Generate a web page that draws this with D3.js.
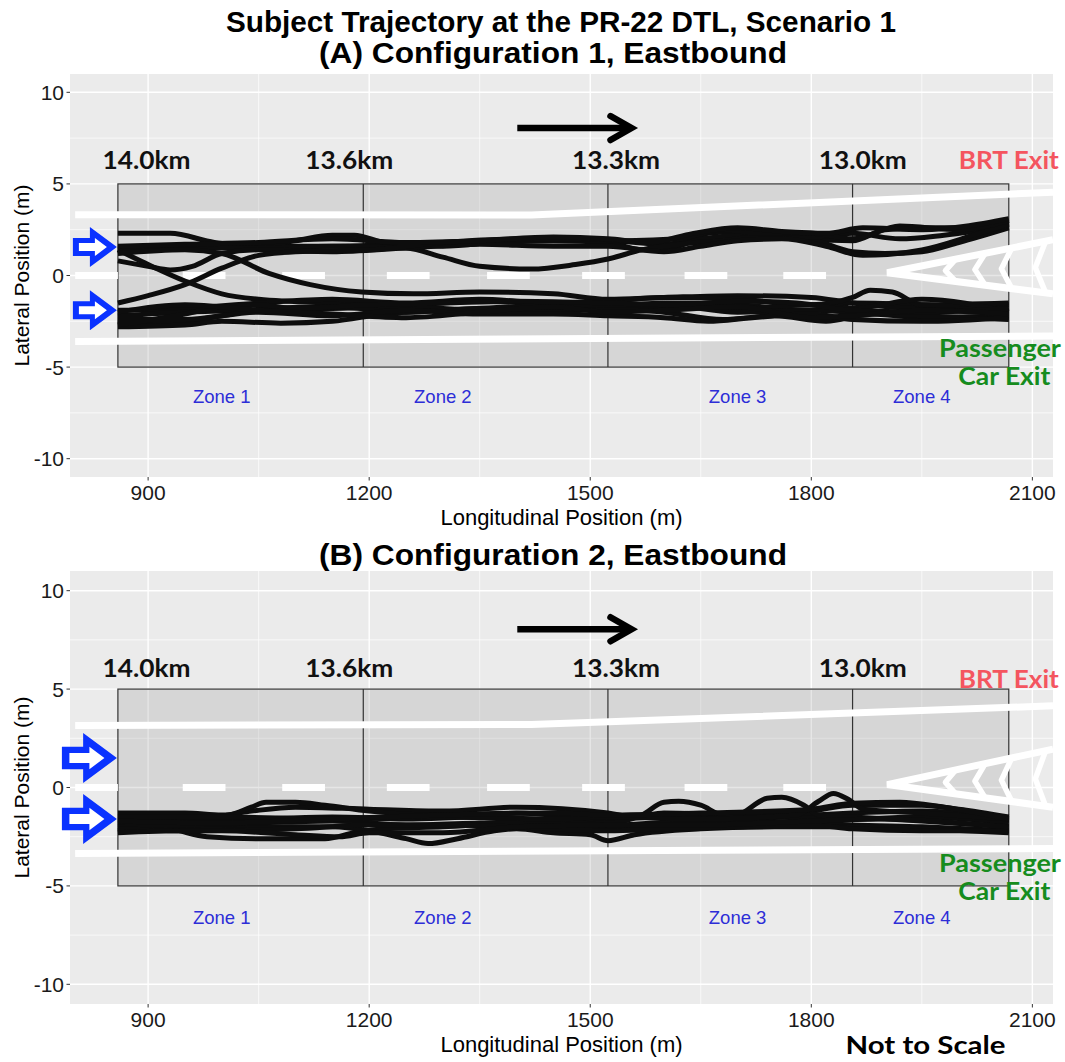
<!DOCTYPE html>
<html><head><meta charset="utf-8">
<script src="https://cdn.jsdelivr.net/npm/d3@7"></script>
<style>body{margin:0;background:#fff}svg{display:block}</style>
</head><body><svg id="c" width="1065" height="1062"></svg>
<script>
// ---------- data ----------
const xDomain = [794, 2128];
const yDomain = [-11, 11];
const xTicks = [900, 1200, 1500, 1800, 2100];
const xMinorTicks = [1050, 1350, 1650, 1950];
const yTicks = [-10, -5, 0, 5, 10];
const yMinorTicks = [-7.5, -2.5, 2.5, 7.5];

const zoneBounds = [859, 1192, 1524, 1856, 2068];
const zoneBoxY = [-5, 5];
const zoneNames = ["Zone 1", "Zone 2", "Zone 3", "Zone 4"];
const zoneLabelX = [1000, 1300, 1700, 1950];
const zoneLabelY = -6.6;
const kmLabels = ["14.0km", "13.6km", "13.3km", "13.0km"];
const kmLabelX = [898, 1173, 1535, 1870];

const dashStarts = [801, 947, 1082, 1224, 1360, 1489, 1628, 1762];
const dashLength = 58;
const edgeTopA = [[801, 3.32], [1420, 3.3], [2128, 4.55]];
const edgeBottomA = [[801, -3.6], [2128, -3.3]];
const edgeTopB = [[801, 3.15], [1420, 3.2], [2128, 4.15]];
const edgeBottomB = [[801, -3.35], [2128, -3.1]];
const goreTip = [1903, 0.15];
const goreTop = [2128, 1.95];
const goreBottom = [2128, -1.0];
const chevronX = [1982, 2022, 2058, 2104];

const entryArrowsA = [1.55, -1.9];
const entryArrowsB = [1.5, -1.6];
const travelArrowX = [1401, 1556];

const trajA = [
  [[859,2.3],[930,2.3],[990,1.8],[1050,1.6],[1150,1.6],[1250,1.7],[1350,1.8],[1450,1.9],[1524,1.8],[1570,1.4],[1620,1.6],[1660,2.3],[1700,2.4],[1760,2.2],[1800,2.0],[1856,1.9],[1900,2.5],[1950,2.6],[2000,2.6],[2068,2.9]],
  [[859,1.5],[950,1.6],[1050,1.6],[1100,1.9],[1150,2.2],[1180,2.2],[1220,1.8],[1300,1.6],[1400,1.9],[1524,1.9],[1600,1.7],[1650,2.0],[1700,2.2],[1750,2.3],[1800,2.0],[1856,1.3],[1900,1.2],[1950,1.3],[2000,1.8],[2068,2.6]],
  [[859,1.4],[950,1.5],[1050,1.5],[1150,1.6],[1250,1.5],[1300,1.0],[1350,0.5],[1420,0.35],[1480,0.6],[1524,0.9],[1570,1.4],[1620,1.7],[1680,1.9],[1750,2.2],[1800,2.1],[1856,2.3],[1920,2.0],[1980,2.2],[2068,2.7]],
  [[859,0.8],[900,0.5],[930,0.3],[960,0.5],[1000,1.2],[1050,1.4],[1150,1.3],[1250,1.5],[1350,1.7],[1450,1.6],[1524,1.6],[1600,1.3],[1650,1.6],[1700,1.9],[1760,2.0],[1820,1.6],[1870,1.1],[1950,1.4],[2020,2.2],[2068,2.8]],
  [[859,-1.5],[900,-1.1],[950,-0.5],[1000,0.4],[1050,1.1],[1100,1.3],[1200,1.4],[1300,1.8],[1400,2.0],[1500,2.0],[1550,1.9],[1620,2.0],[1680,2.5],[1730,2.3],[1800,2.3],[1856,2.0],[1920,2.7],[2000,2.5],[2068,3.0]],
  [[859,1.6],[950,1.7],[1050,1.8],[1150,2.0],[1250,1.8],[1350,1.9],[1450,2.1],[1524,2.0],[1580,1.8],[1640,2.3],[1700,2.6],[1760,2.4],[1820,2.3],[1870,2.6],[1950,2.5],[2068,3.1]],
  [[859,1.4],[900,0.6],[950,-0.3],[1000,-1.0],[1050,-1.3],[1150,-1.5],[1250,-1.6],[1350,-1.4],[1450,-1.6],[1524,-1.7],[1600,-1.5],[1700,-1.6],[1800,-1.9],[1856,-1.5],[1950,-1.6],[2068,-1.9]],
  [[859,1.2],[950,1.4],[1000,1.2],[1065,0.1],[1120,-0.5],[1190,-0.9],[1260,-1.0],[1350,-0.9],[1450,-1.0],[1524,-1.3],[1600,-1.2],[1700,-1.1],[1800,-1.2],[1856,-1.5],[1950,-1.8],[2068,-1.6]],
  [[859,-1.9],[950,-1.8],[1050,-1.5],[1150,-1.3],[1250,-1.5],[1350,-1.3],[1450,-1.5],[1524,-1.4],[1600,-1.2],[1700,-1.3],[1800,-1.6],[1856,-1.2],[1880,-0.8],[1910,-0.9],[1950,-1.6],[2068,-1.5]],
  [[859,-2.2],[950,-2.0],[1050,-1.9],[1150,-1.8],[1250,-1.7],[1350,-1.9],[1450,-1.8],[1524,-1.9],[1600,-1.7],[1700,-1.8],[1800,-1.6],[1856,-1.8],[1950,-1.3],[2068,-2.0]],
  [[859,-2.5],[920,-2.6],[1000,-2.2],[1060,-1.8],[1150,-1.7],[1250,-2.0],[1350,-1.8],[1450,-2.0],[1524,-1.8],[1600,-2.0],[1680,-2.4],[1750,-2.2],[1820,-2.5],[1880,-2.1],[1950,-2.3],[2068,-2.2]],
  [[859,-2.8],[950,-2.7],[1000,-2.5],[1080,-2.6],[1150,-2.5],[1220,-2.1],[1300,-1.9],[1400,-1.7],[1524,-1.6],[1600,-1.6],[1700,-2.0],[1800,-1.9],[1856,-2.0],[1950,-2.2],[2068,-2.4]],
  [[859,-2.7],[950,-2.1],[1000,-1.7],[1050,-1.6],[1100,-1.8],[1200,-1.6],[1300,-1.5],[1400,-1.4],[1524,-1.5],[1620,-1.6],[1700,-1.4],[1780,-1.5],[1856,-1.9],[1950,-2.0],[2068,-1.8]],
  [[859,-2.4],[950,-2.4],[1050,-2.0],[1150,-2.2],[1250,-1.9],[1350,-2.1],[1450,-2.1],[1524,-2.2],[1600,-2.3],[1660,-2.5],[1720,-2.3],[1800,-2.1],[1856,-2.4],[1950,-2.5],[2068,-2.3]],
  [[859,-2.0],[950,-1.6],[1050,-1.9],[1150,-2.1],[1250,-2.3],[1350,-2.0],[1450,-1.7],[1524,-2.0],[1600,-1.9],[1700,-1.7],[1800,-2.3],[1856,-2.2],[1950,-1.9],[2068,-2.1]]
];

const trajB = [
  [[859,-1.3],[950,-1.3],[1000,-1.4],[1040,-1.2],[1100,-1.0],[1200,-1.1],[1300,-1.2],[1400,-1.0],[1524,-1.3],[1560,-1.5],[1600,-1.3],[1700,-1.4],[1800,-1.2],[1856,-0.9],[1950,-0.9],[2000,-1.1],[2068,-1.5]],
  [[859,-1.6],[950,-1.6],[1010,-1.4],[1040,-1.0],[1060,-0.75],[1100,-0.75],[1140,-0.9],[1200,-1.2],[1300,-1.4],[1400,-1.3],[1524,-1.6],[1600,-1.5],[1700,-1.6],[1800,-1.4],[1856,-1.3],[1950,-1.2],[2068,-1.7]],
  [[859,-1.9],[930,-2.1],[980,-2.5],[1050,-2.6],[1140,-2.6],[1180,-2.3],[1220,-2.1],[1300,-2.0],[1400,-1.8],[1524,-2.0],[1600,-1.9],[1700,-1.7],[1800,-1.8],[1856,-1.9],[1950,-2.0],[2068,-2.2]],
  [[859,-2.2],[950,-2.0],[1050,-2.0],[1150,-2.0],[1200,-2.2],[1250,-2.6],[1280,-2.85],[1320,-2.6],[1370,-2.2],[1400,-2.1],[1450,-2.3],[1500,-2.4],[1524,-2.7],[1560,-2.4],[1650,-2.1],[1750,-2.0],[1856,-2.0],[1950,-2.1],[2068,-2.3]],
  [[859,-1.8],[950,-1.7],[1050,-1.6],[1150,-1.5],[1250,-1.6],[1350,-1.5],[1450,-1.7],[1524,-1.8],[1570,-1.4],[1600,-0.75],[1620,-0.7],[1650,-0.9],[1680,-1.4],[1750,-1.5],[1856,-1.6],[1950,-1.5],[2068,-1.8]],
  [[859,-2.0],[950,-1.9],[1050,-1.8],[1150,-1.7],[1250,-1.9],[1350,-1.8],[1450,-1.7],[1524,-1.9],[1650,-1.6],[1700,-1.4],[1740,-0.55],[1760,-0.5],[1790,-0.9],[1810,-1.4],[1856,-1.5],[1950,-1.7],[2068,-2.0]],
  [[859,-1.5],[1000,-1.5],[1150,-1.6],[1300,-1.5],[1450,-1.6],[1524,-1.5],[1650,-1.6],[1780,-1.4],[1810,-0.7],[1830,-0.3],[1850,-0.6],[1870,-1.1],[1950,-1.3],[2068,-1.6]],
  [[859,-1.7],[1000,-1.8],[1150,-1.6],[1300,-1.4],[1450,-1.3],[1524,-1.4],[1650,-1.3],[1800,-1.1],[1856,-0.8],[1920,-0.75],[1980,-1.0],[2068,-1.6]],
  [[859,-2.1],[950,-2.2],[1100,-2.1],[1200,-1.9],[1300,-1.9],[1400,-2.0],[1524,-2.2],[1600,-2.1],[1700,-2.0],[1800,-1.9],[1856,-2.1],[1950,-2.2],[2068,-2.2]],
  [[859,-2.3],[950,-2.2],[1000,-2.2],[1100,-2.4],[1160,-2.5],[1200,-2.3],[1300,-2.3],[1400,-2.0],[1524,-1.9],[1650,-1.9],[1800,-1.7],[1900,-1.6],[2000,-1.8],[2068,-2.0]]
];

const mainTitle = "Subject Trajectory at the PR-22 DTL, Scenario 1";
const panelTitles = ["(A) Configuration 1, Eastbound", "(B) Configuration 2, Eastbound"];
const xTitle = "Longitudinal Position (m)";
const yTitle = "Lateral Position (m)";

// ---------- layout ----------
const svg = d3.select("#c");
svg.append("rect").attr("width", 1065).attr("height", 1062).attr("fill", "#fff");
const SANS = "'Liberation Sans', Arial, sans-serif";
const CAL = "Lato, 'Open Sans', sans-serif";

svg.append("text").attr("x", 561).attr("y", 32).attr("text-anchor", "middle")
  .attr("font-family", SANS).attr("font-weight", "bold").attr("font-size", 29)
  .attr("textLength", 670).attr("lengthAdjust", "spacingAndGlyphs").text(mainTitle);

const panels = [
  {title: panelTitles[0], titleY: 63, yRange: [477, 74], traj: trajA, eTop: edgeTopA, eBot: edgeBottomA,
   arrows: entryArrowsA, aSize: 20, kmY: 5.8, brtY: 5.8, passY: -4.45, carY: -5.99, dirY: 8.05},
  {title: panelTitles[1], titleY: 565, yRange: [1004, 571], traj: trajB, eTop: edgeTopB, eBot: edgeBottomB,
   arrows: entryArrowsB, aSize: 25, kmY: 5.6, brtY: 5.08, passY: -4.31, carY: -5.74, dirY: 8.04, notToScale: true}
];

panels.forEach((p, i) => {
  const x = d3.scaleLinear().domain(xDomain).range([70, 1053]);
  const y = d3.scaleLinear().domain(yDomain).range(p.yRange);
  const [x0, x1] = x.range();
  const yb = p.yRange[0], yt = p.yRange[1];

  svg.append("text").attr("x", 553).attr("y", p.titleY).attr("text-anchor", "middle")
    .attr("font-family", SANS).attr("font-weight", "bold").attr("font-size", 29)
    .attr("textLength", 468).attr("lengthAdjust", "spacingAndGlyphs").text(p.title);

  const clipId = "clip" + i;
  svg.append("clipPath").attr("id", clipId).append("rect")
    .attr("x", x0).attr("y", yt).attr("width", x1 - x0).attr("height", yb - yt);

  const g = svg.append("g").attr("clip-path", `url(#${clipId})`);
  g.append("rect").attr("x", x0).attr("y", yt).attr("width", x1 - x0).attr("height", yb - yt).attr("fill", "#EBEBEB");

  // grid
  g.selectAll(".vmin").data(xMinorTicks).join("line").attr("x1", d => x(d)).attr("x2", d => x(d))
    .attr("y1", yt).attr("y2", yb).attr("stroke", "#fff").attr("stroke-width", 0.7);
  g.selectAll(".hmin").data(yMinorTicks).join("line").attr("y1", d => y(d)).attr("y2", d => y(d))
    .attr("x1", x0).attr("x2", x1).attr("stroke", "#fff").attr("stroke-width", 0.7);
  g.selectAll(".vmaj").data(xTicks).join("line").attr("x1", d => x(d)).attr("x2", d => x(d))
    .attr("y1", yt).attr("y2", yb).attr("stroke", "#fff").attr("stroke-width", 1.4);
  g.selectAll(".hmaj").data(yTicks).join("line").attr("y1", d => y(d)).attr("y2", d => y(d))
    .attr("x1", x0).attr("x2", x1).attr("stroke", "#fff").attr("stroke-width", 1.4);

  // zone box
  g.append("rect").attr("x", x(zoneBounds[0])).attr("y", y(zoneBoxY[1]))
    .attr("width", x(zoneBounds[4]) - x(zoneBounds[0])).attr("height", y(zoneBoxY[0]) - y(zoneBoxY[1]))
    .attr("fill", "#808080").attr("fill-opacity", 0.2).attr("stroke", "#333").attr("stroke-width", 1.2);
  g.selectAll(".zsep").data(zoneBounds.slice(1, 4)).join("line")
    .attr("x1", d => x(d)).attr("x2", d => x(d)).attr("y1", y(zoneBoxY[0])).attr("y2", y(zoneBoxY[1]))
    .attr("stroke", "#333").attr("stroke-width", 1.2);

  // road markings
  const ln = d3.line().x(d => x(d[0])).y(d => y(d[1]));
  [p.eTop, p.eBot].forEach(e => g.append("path").attr("d", ln(e)).attr("fill", "none")
    .attr("stroke", "#fff").attr("stroke-width", 7));
  g.selectAll(".dash").data(dashStarts).join("line")
    .attr("x1", d => x(d)).attr("x2", d => x(d + dashLength)).attr("y1", y(0)).attr("y2", y(0))
    .attr("stroke", "#fff").attr("stroke-width", 7);
  g.append("path").attr("d", ln([goreTop, goreTip, goreBottom])).attr("fill", "none")
    .attr("stroke", "#fff").attr("stroke-width", 7).attr("stroke-linejoin", "miter");
  const lerp = (a, b, t) => a + (b - a) * t;
  chevronX.forEach(cx => {
    const span = goreTop[0] - goreTip[0];
    const t0 = (cx - goreTip[0]) / span;
    const t1 = (cx + 14 - goreTip[0]) / span;
    const mid = lerp(goreTip[1], (goreTop[1] + goreBottom[1]) / 2, t0);
    const pts = [[cx + 14, lerp(goreTip[1], goreTop[1], t1)], [cx, mid], [cx + 14, lerp(goreTip[1], goreBottom[1], t1)]];
    g.append("path").attr("d", ln(pts)).attr("fill", "none").attr("stroke", "#fff")
      .attr("stroke-width", 5.5).attr("stroke-linejoin", "round");
  });

  // trajectories
  const tl = d3.line().x(d => x(d[0])).y(d => y(d[1])).curve(d3.curveMonotoneX);
  g.selectAll(".traj").data(p.traj).join("path").attr("d", tl).attr("fill", "none")
    .attr("stroke", "#0d0d0d").attr("stroke-width", 5).attr("stroke-linejoin", "round");

  // entry arrows
  const k = p.aSize / 20;
  p.arrows.forEach(ay => {
    const tx = x(zoneBounds[0]) - 1, ty = y(ay);
    const L = 44 * k, hl = 27 * k, s = 9 * k, h = p.aSize;
    const outer = [[tx - L, ty - s], [tx - hl, ty - s], [tx - hl, ty - h], [tx, ty], [tx - hl, ty + h], [tx - hl, ty + s], [tx - L, ty + s]];
    const inner = [[tx - L + 6 * k, ty - 4 * k], [tx - hl + 5 * k, ty - 4 * k], [tx - hl + 5 * k, ty - 9 * k], [tx - 10 * k, ty],
                   [tx - hl + 5 * k, ty + 9 * k], [tx - hl + 5 * k, ty + 4 * k], [tx - L + 6 * k, ty + 4 * k]];
    svg.append("polygon").attr("points", outer.map(d => d.join(",")).join(" ")).attr("fill", "#0A32FF");
    svg.append("polygon").attr("points", inner.map(d => d.join(",")).join(" ")).attr("fill", "#fff");
  });

  // travel direction arrow
  const ax0 = x(travelArrowX[0]), ax1 = x(travelArrowX[1]), ay = y(p.dirY);
  svg.append("line").attr("x1", ax0).attr("x2", ax1 - 3).attr("y1", ay).attr("y2", ay)
    .attr("stroke", "#000").attr("stroke-width", 6.5);
  svg.append("path").attr("d", `M${ax1 - 21},${ay - 12}L${ax1},${ay}L${ax1 - 21},${ay + 12}`)
    .attr("fill", "none").attr("stroke", "#000").attr("stroke-width", 6.5).attr("stroke-linecap", "round").attr("stroke-linejoin", "miter");

  // annotations
  svg.selectAll(null).data(kmLabels).join("text").attr("x", (d, j) => x(kmLabelX[j])).attr("y", y(p.kmY))
    .attr("text-anchor", "middle").attr("font-family", CAL).attr("font-weight", "bold").attr("font-size", 25)
    .attr("textLength", 88).attr("lengthAdjust", "spacingAndGlyphs").attr("fill", "#111").text(d => d);
  svg.selectAll(null).data(zoneNames).join("text").attr("x", (d, j) => x(zoneLabelX[j])).attr("y", y(zoneLabelY))
    .attr("dy", "0.35em").attr("text-anchor", "middle").attr("font-family", SANS).attr("font-size", 18.5)
    .attr("fill", "#2D2DD7").text(d => d);
  svg.append("text").attr("x", x(2068)).attr("y", y(p.brtY)).attr("text-anchor", "middle")
    .attr("font-family", CAL).attr("font-weight", "bold").attr("font-size", 25).attr("fill", "#F4555F")
    .attr("textLength", 100).attr("lengthAdjust", "spacingAndGlyphs").text("BRT Exit");
  svg.append("text").attr("x", x(2056)).attr("y", y(p.passY)).attr("text-anchor", "middle")
    .attr("font-family", CAL).attr("font-weight", "bold").attr("font-size", 25).attr("fill", "#168C1E")
    .attr("textLength", 122).attr("lengthAdjust", "spacingAndGlyphs").text("Passenger");
  svg.append("text").attr("x", x(2062)).attr("y", y(p.carY)).attr("text-anchor", "middle")
    .attr("font-family", CAL).attr("font-weight", "bold").attr("font-size", 25).attr("fill", "#168C1E")
    .attr("textLength", 92).attr("lengthAdjust", "spacingAndGlyphs").text("Car Exit");

  // axes
  svg.selectAll(null).data(yTicks).join("line").attr("x1", x0 - 3.5).attr("x2", x0)
    .attr("y1", d => y(d)).attr("y2", d => y(d)).attr("stroke", "#333").attr("stroke-width", 1);
  svg.selectAll(null).data(yTicks).join("text").attr("x", x0 - 6).attr("y", d => y(d)).attr("dy", "0.36em")
    .attr("text-anchor", "end").attr("font-family", SANS).attr("font-size", 21).attr("fill", "#1a1a1a").text(d => d);
  svg.selectAll(null).data(xTicks).join("line").attr("y1", yb).attr("y2", yb + 3.5)
    .attr("x1", d => x(d)).attr("x2", d => x(d)).attr("stroke", "#333").attr("stroke-width", 1);
  svg.selectAll(null).data(xTicks).join("text").attr("x", d => x(d)).attr("y", yb + 23)
    .attr("text-anchor", "middle").attr("font-family", SANS).attr("font-size", 21).attr("fill", "#1a1a1a").text(d => d);
  svg.append("text").attr("x", (x0 + x1) / 2).attr("y", yb + 48).attr("text-anchor", "middle")
    .attr("font-family", SANS).attr("font-size", 22).attr("fill", "#000").text(xTitle);
  const cy = (yt + yb) / 2;
  svg.append("text").attr("x", 29).attr("y", cy).attr("transform", `rotate(-90,29,${cy})`).attr("text-anchor", "middle")
    .attr("font-family", SANS).attr("font-size", 21).attr("fill", "#000").text(yTitle);

  if (p.notToScale) {
    svg.append("text").attr("x", x(1955)).attr("y", yb + 50).attr("text-anchor", "middle")
      .attr("font-family", CAL).attr("font-weight", "bold").attr("font-size", 25).attr("fill", "#000")
      .attr("textLength", 160).attr("lengthAdjust", "spacingAndGlyphs").text("Not to Scale");
  }
});
</script></body></html>
